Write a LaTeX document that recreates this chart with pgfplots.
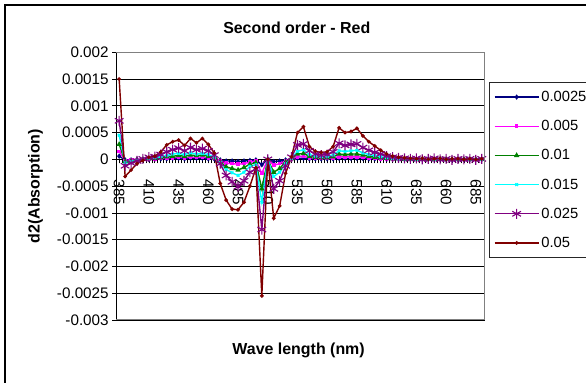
\documentclass[border=0pt]{standalone}
\usepackage{pgfplots}
\usepackage{pgfplotstable}
\pgfplotsset{compat=1.18}
\usepackage{fontspec}
\setmainfont{Liberation Sans}
\definecolor{sNavy}{RGB}{0,0,128}
\definecolor{sMag}{RGB}{255,0,255}
\definecolor{sGreen}{RGB}{0,128,0}
\definecolor{sCyan}{RGB}{0,255,255}
\definecolor{sPurple}{RGB}{128,0,128}
\definecolor{sRed}{RGB}{128,0,0}
\pgfplotstableread{
x a b c d e f
385 0.00006 0.00015 0.00028 0.00045 0.00072 0.00150
390 -0.00001 -0.00002 -0.00004 -0.00006 -0.00012 -0.00032
395 -0.00001 -0.00001 -0.00003 -0.00004 -0.00007 -0.00020
400 0.00000 0.00000 -0.00001 -0.00002 -0.00003 -0.00008
405 0.00000 0.00000 0.00000 0.00000 0.00001 -0.00002
410 0.00000 0.00001 0.00001 0.00002 0.00004 0.00004
415 0.00001 0.00001 0.00002 0.00003 0.00005 0.00006
420 0.00001 0.00002 0.00003 0.00005 0.00009 0.00014
425 0.00001 0.00003 0.00005 0.00007 0.00014 0.00027
430 0.00002 0.00003 0.00006 0.00010 0.00018 0.00033
435 0.00002 0.00004 0.00007 0.00011 0.00021 0.00036
440 0.00001 0.00003 0.00006 0.00009 0.00016 0.00026
445 0.00002 0.00004 0.00008 0.00012 0.00022 0.00039
450 0.00002 0.00004 0.00007 0.00010 0.00018 0.00031
455 0.00002 0.00004 0.00008 0.00011 0.00020 0.00039
460 0.00001 0.00003 0.00006 0.00009 0.00016 0.00028
465 0.00001 0.00002 0.00003 0.00004 0.00008 0.00012
470 -0.00001 -0.00002 -0.00004 -0.00006 -0.00008 -0.00045
475 -0.00003 -0.00007 -0.00014 -0.00019 -0.00030 -0.00076
480 -0.00003 -0.00008 -0.00017 -0.00025 -0.00042 -0.00093
485 -0.00004 -0.00009 -0.00020 -0.00030 -0.00051 -0.00094
490 -0.00003 -0.00008 -0.00015 -0.00024 -0.00040 -0.00080
495 -0.00002 -0.00005 -0.00009 -0.00013 -0.00024 -0.00050
500 -0.00001 -0.00003 -0.00006 -0.00010 -0.00018 -0.00016
505 -0.00010 -0.00026 -0.00055 -0.00080 -0.00131 -0.00255
510 0.00000 0.00000 0.00000 0.00000 0.00000 0.00000
515 -0.00004 -0.00011 -0.00024 -0.00032 -0.00055 -0.00110
520 -0.00003 -0.00008 -0.00017 -0.00024 -0.00040 -0.00087
525 -0.00001 -0.00003 -0.00005 -0.00008 -0.00012 -0.00026
530 0.00000 0.00000 0.00001 0.00002 0.00004 0.00005
535 0.00002 0.00005 0.00010 0.00015 0.00027 0.00050
540 0.00002 0.00006 0.00011 0.00018 0.00029 0.00061
545 0.00001 0.00003 0.00006 0.00009 0.00016 0.00024
550 0.00001 0.00002 0.00004 0.00006 0.00010 0.00015
555 0.00001 0.00002 0.00003 0.00005 0.00008 0.00013
560 0.00001 0.00002 0.00003 0.00005 0.00009 0.00014
565 0.00001 0.00003 0.00005 0.00008 0.00014 0.00024
570 0.00002 0.00005 0.00010 0.00016 0.00030 0.00059
575 0.00002 0.00005 0.00009 0.00015 0.00026 0.00050
580 0.00002 0.00005 0.00010 0.00016 0.00028 0.00052
585 0.00002 0.00005 0.00010 0.00017 0.00029 0.00058
590 0.00002 0.00004 0.00008 0.00012 0.00022 0.00044
595 0.00001 0.00003 0.00006 0.00009 0.00017 0.00033
600 0.00001 0.00002 0.00004 0.00007 0.00013 0.00025
605 0.00001 0.00001 0.00003 0.00005 0.00010 0.00017
610 0.00000 0.00001 0.00002 0.00003 0.00006 0.00010
615 0.00000 0.00000 0.00001 0.00002 0.00004 0.00006
620 0.00000 0.00000 0.00001 0.00001 0.00003 0.00004
625 0.00000 0.00000 0.00000 0.00001 0.00002 0.00003
630 0.00000 0.00000 0.00000 0.00001 0.00001 0.00002
635 0.00000 0.00000 0.00000 0.00000 0.00002 0.00001
640 0.00000 0.00000 0.00000 0.00001 0.00000 0.00002
645 0.00000 0.00000 0.00000 0.00000 0.00001 0.00000
650 0.00000 0.00000 0.00000 0.00000 0.00002 0.00001
655 0.00000 0.00000 0.00000 0.00001 0.00000 0.00002
660 0.00000 0.00000 0.00000 0.00000 0.00001 0.00000
665 0.00000 0.00000 0.00000 0.00000 -0.00001 0.00001
670 0.00000 0.00000 0.00000 0.00000 0.00001 0.00001
675 0.00000 0.00000 0.00000 0.00000 0.00000 0.00000
680 0.00000 0.00000 0.00000 0.00000 0.00001 0.00001
685 0.00000 0.00000 0.00000 0.00000 -0.00001 0.00000
690 0.00000 0.00000 0.00000 0.00000 0.00001 0.00001
}\data
\begin{document}
\begin{tikzpicture}
\useasboundingbox (0,0) rectangle (586bp,383bp);
\fill[white] (0,0) rectangle (586bp,383bp);
\draw[line width=1.2bp, black] (5bp,-20bp) rectangle (620bp,378bp);
\begin{axis}[
  at={(116.2bp,63bp)}, anchor=south west,
  scale only axis, width=368.5bp, height=267.7bp,
  xmin=382.5, xmax=692.5, ymin=-0.003, ymax=0.002,
  axis x line=middle, axis y line=left,
  axis line style={-, black, line width=0.9bp},
  xtick={385,410,...,685},
  minor xtick={382.5,385,...,692.5},
  ytick={-0.003,-0.0025,-0.002,-0.0015,-0.001,-0.0005,0,0.0005,0.001,0.0015,0.002},
  scaled y ticks=false,
  /pgf/number format/assume math mode=true,
  yticklabel style={/pgf/number format/fixed, /pgf/number format/precision=4, font=\fontsize{15.3}{18}\selectfont},
  xticklabel style={rotate=-90, anchor=west, font=\fontsize{15.3}{18}\selectfont},
  xticklabel shift=13bp,
  tick align=outside,
  major tick length=4bp, minor tick length=4bp,
  tick style={black, line width=0.7bp},
  ymajorgrids, major grid style={black, line width=0.7bp},
  title={Second order - Red},
  title style={font=\bfseries\fontsize{16}{19}\selectfont, at={(0.49,1)}, anchor=center, yshift=19bp},
  xlabel={Wave length (nm)},
  ylabel={d2(Absorption)},
  every axis x label/.style={at={(0.495,0)}, anchor=center, yshift=-30.7bp, font=\bfseries\fontsize{16}{19}\selectfont},
  every axis y label/.style={at={(0,0.5)}, xshift=-80.7bp, rotate=90, anchor=center, font=\bfseries\fontsize{16}{19}\selectfont},
  legend style={at={(1.013,0.890)}, anchor=north west, draw=black!85, line width=0.9bp, fill=white,
    font=\fontsize{14.8}{18}\selectfont, inner xsep=4bp, inner ysep=7bp, row sep=13.4bp},
  legend cell align=left,
  legend image code/.code={\draw[mark repeat=2, mark phase=2, #1] plot coordinates {(0bp,0bp) (22bp,0bp) (44bp,0bp)};},
  after end axis/.code={\draw[gray, line width=1bp] (rel axis cs:0,0) -- (rel axis cs:1,0) -- (rel axis cs:1,1) -- (rel axis cs:0,1);},
]
\addplot[sNavy, line width=1.4bp, mark=diamond*, mark size=1.6bp, mark options={solid}] table[x=x,y=a]{\data};
\addlegendentry{0.0025}
\addplot[sMag, line width=1.4bp, mark=square*, mark size=1.1bp, mark options={solid}] table[x=x,y=b]{\data};
\addlegendentry{0.005}
\addplot[sGreen, line width=1.4bp, mark=triangle*, mark size=1.8bp, mark options={solid}] table[x=x,y=c]{\data};
\addlegendentry{0.01}
\addplot[sCyan, line width=1.4bp, mark=x, mark size=1.8bp, mark options={solid}] table[x=x,y=d]{\data};
\addlegendentry{0.015}
\addplot[sPurple, line width=1.4bp, mark=asterisk, mark size=5bp, mark options={solid, line width=1.1bp}] table[x=x,y=e]{\data};
\addlegendentry{0.025}
\addplot[sRed, line width=1.4bp, mark=*, mark size=1.1bp, mark options={solid}] table[x=x,y=f]{\data};
\addlegendentry{0.05}
\end{axis}
\end{tikzpicture}
\end{document}
